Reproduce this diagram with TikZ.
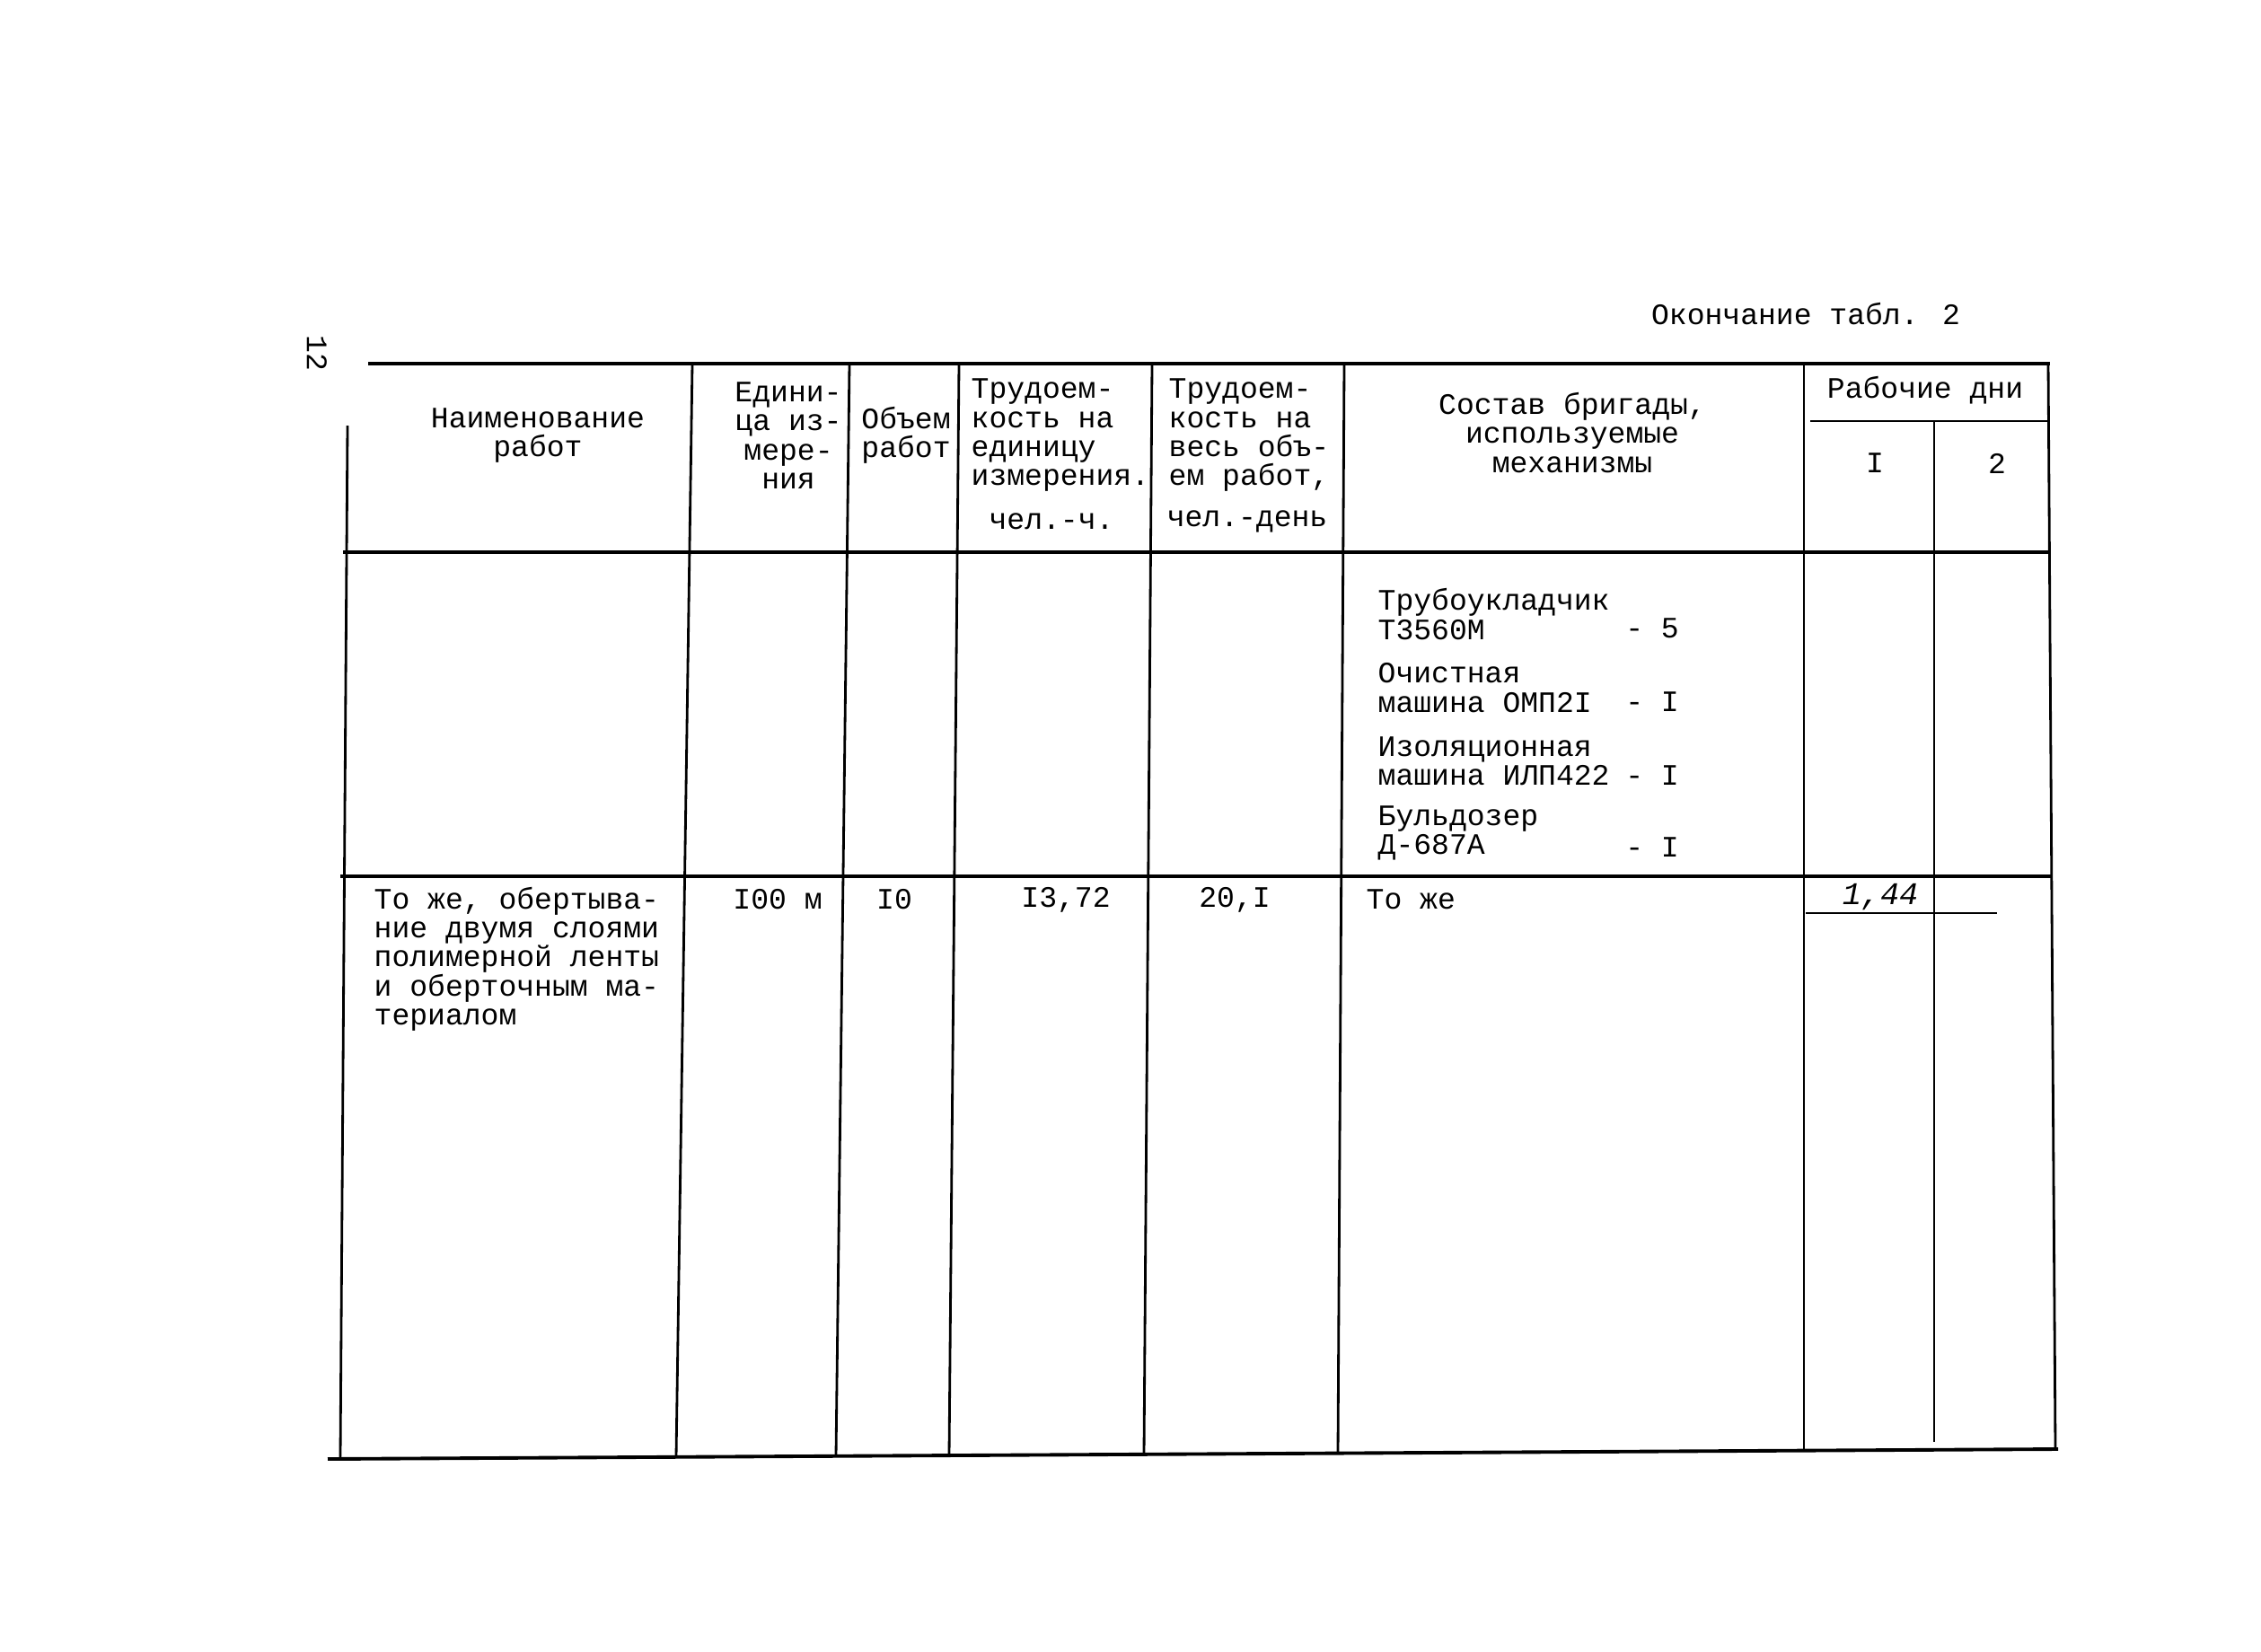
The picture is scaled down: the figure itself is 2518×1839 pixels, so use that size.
\documentclass[tikz,border=0pt]{standalone}
\usepackage{fontspec}
\newfontfamily\typewriter{Liberation Mono}
\tikzset{
every node/.style = {font = \typewriter\fontsize{9.4}{9.2}\selectfont, inner sep = 0pt},
rule/.style = {line width = 0.8pt},
heavyrule/.style = {line width = 1.1pt},
headcell/.style = {align = center},
block/.style = {align = left, anchor = west},
count/.style = {anchor = center},
handwritten/.style = {font = \typewriter\itshape\fontsize{10}{10}\selectfont}
}

\begin{document}
\begin{tikzpicture}[x = 0.01cm, y = -0.01cm]
\useasboundingbox (0,0) rectangle (2518,1839);

%% Page number and caption
\node [rotate = -90] (page) at (353,393) {12};
\node (caption) at (2011,350) {Окончание табл. 2};

%% The rules of the table
\draw [heavyrule] (410,405) -- (2283,405);
\draw [rule] (387,474) -- (379,1623);
\draw [heavyrule] (382,615) -- (2283,615);
\draw [heavyrule] (379,976) -- (2284,976);
\draw [rule] (2016,469) -- (2281,469);
\draw [rule] (2011,1017) -- (2224,1017);
\draw [heavyrule] (365,1625) -- (2292,1614);
\foreach \xt/\xb/\yb in {771/753/1623, 946/931/1622, 1068/1057/1621,
    1283/1274/1620, 1497/1490/1619, 2009/2009/1616, 2281/2289/1614}
  \draw [rule] (\xt,405) -- (\xb,\yb);
\draw [rule] (2154,469) -- (2154,1606);

%% The header
\node [headcell] (name) at (599,485) {Наименование\\работ};
\node [headcell] (unit) at (878,485) {Едини-\\ца из-\\мере-\\ния};
\node [headcell] (volume) at (1009,485) {Объем\\работ};
\node [block] (laborunit) at (1081,485) {Трудоем-\\кость на\\единицу\\измерения.};
\node (perhour) at (1171,581) {чел.-ч.};
\node [block] (labortotal) at (1301,485) {Трудоем-\\кость на\\весь объ-\\ем работ,};
\node (perday) at (1389,581) {чел.-день};
\node [headcell] (crew) at (1751,482) {Состав бригады,\\используемые\\механизмы};
\node (workdays) at (2144,435) {Рабочие дни};
\node (dayone) at (2088,516) {I};
\node (daytwo) at (2224,516) {2};

%% The machines of the crew
\node [block] (pipelayer) at (1534,684) {Трубоукладчик\\Т3560М};
\node [count] (npipelayer) at (1840,700) {- 5};
\node [block] (cleaner) at (1534,766) {Очистная\\машина ОМП2I};
\node [count] (ncleaner) at (1840,782) {- I};
\node [block] (insulator) at (1534,848) {Изоляционная\\машина ИЛП422};
\node [count] (ninsulator) at (1840,864) {- I};
\node [block] (dozer) at (1534,928) {Бульдозер\\Д-687А};
\node [count] (ndozer) at (1840,944) {- I};

%% The row of the works
\node [block] (wrapping) at (416,1068) {То же, обертыва-\\ние двумя слоями\\полимерной ленты\\и оберточным ма-\\териалом};
\node (length) at (866,1002) {I00 м};
\node (amount) at (996,1002) {I0};
\node (hours) at (1187,1002) {I3,72};
\node (days) at (1375,1002) {20,I};
\node [anchor = west] (same) at (1521,1002) {То же};
\node [handwritten] (firstday) at (2094,999) {1,44};

\end{tikzpicture}
\end{document}
